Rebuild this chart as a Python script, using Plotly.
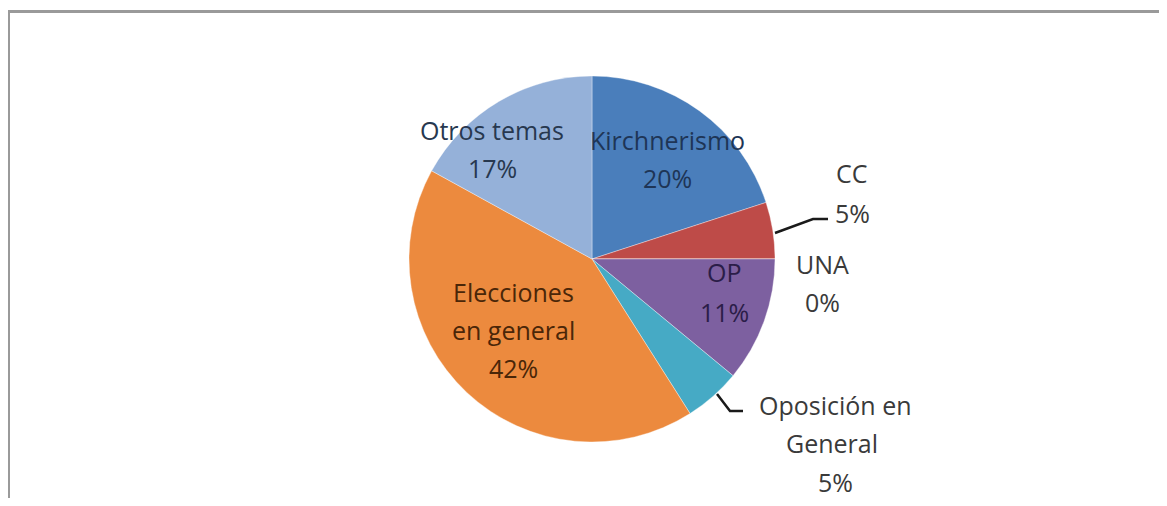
import plotly.graph_objects as go

# ---- data ----
labels = ["Kirchnerismo", "CC", "UNA", "OP", "Oposición en General", "Elecciones en general", "Otros temas"]
values = [20, 5, 0, 11, 5, 42, 17]
label_lines = [["Kirchnerismo"], ["CC"], ["UNA"], ["OP"], ["Oposición en", "General"], ["Elecciones", "en general"], ["Otros temas"]]
colors = ["#4A7EBB", "#BE4B48", "#9BBB59", "#7D60A0", "#46AAC5", "#EC8A3E", "#95B1D9"]
text_colors = ["#1E3556", "#3a3a3a", "#3a3a3a", "#2B1D48", "#3a3a3a", "#4A2608", "#27384F"]

# page has an 8px body margin; figure is drawn inside it
OFF = 8
W, H = 1167 - 2 * OFF, 506 - 2 * OFF

def px(x):
    return (x - OFF) / W

def py(y):
    return 1 - (y - OFF) / H

cx, cy, r = 592, 259, 183

fig = go.Figure(go.Pie(
    labels=labels,
    values=values,
    sort=False,
    direction="clockwise",
    rotation=0,
    marker=dict(colors=colors, line=dict(color="rgba(255,255,255,0.6)", width=0.6)),
    textinfo="none",
    hoverinfo="label+percent",
    showlegend=False,
    domain=dict(x=[px(cx - r), px(cx + r)], y=[py(cy + r), py(cy - r)]),
))

# label positions (pixel centres of each text line), layout only
label_pos = [
    [(667, 140), (667, 178)],
    [(852, 173), (852, 213)],
    [(822, 264), (822, 302)],
    [(724, 272), (724, 312)],
    [(835, 405), (832, 443), (835, 482)],
    [(513, 292), (513, 330), (513, 368)],
    [(492, 130), (492, 168)],
]

annotations = []
for i, lab in enumerate(labels):
    lines = label_lines[i] + [f"{values[i]}%"]
    for line, (x, y) in zip(lines, label_pos[i]):
        annotations.append(dict(
            x=px(x), y=py(y), xref="paper", yref="paper",
            text=line, showarrow=False, xanchor="center", yanchor="middle",
            font=dict(family="'Open Sans', Lato, sans-serif", size=25, color=text_colors[i]),
        ))

shapes = []
# leader lines
for pts in [[(775, 233), (813, 219), (828, 219)], [(717, 394), (730, 411), (743, 411)]]:
    path = "M " + " L ".join(f"{px(x)} {py(y)}" for x, y in pts)
    shapes.append(dict(type="path", path=path, xref="paper", yref="paper",
                       line=dict(color="#1a1a1a", width=2.5)))
# frame
shapes.append(dict(type="line", xref="paper", yref="paper", x0=px(8), x1=1, y0=py(11.5), y1=py(11.5),
                   line=dict(color="#9a9a9a", width=3)))
shapes.append(dict(type="line", xref="paper", yref="paper", x0=px(8.5), x1=px(8.5), y0=py(10), y1=0,
                   line=dict(color="#9a9a9a", width=3)))

fig.update_layout(
    width=W, height=H,
    margin=dict(l=0, r=0, t=0, b=0),
    paper_bgcolor="white",
    plot_bgcolor="white",
    annotations=annotations,
    shapes=shapes,
)

fig.write_html("out.html")
